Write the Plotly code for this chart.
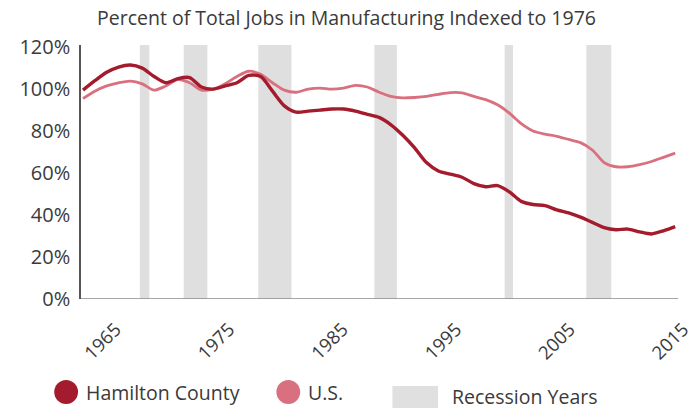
import plotly.graph_objects as go

# Annual share of jobs in manufacturing, indexed so that 1976 = 100%
years = list(range(1965, 2016))
hamilton = [
    99.5, 104.0, 108.0, 110.5, 111.5, 110.0, 106.0, 103.0, 105.0, 105.5,
    101.0, 100.0, 101.5, 103.0, 106.5, 106.0, 99.0, 92.0, 89.0, 89.5,
    90.0, 90.5, 90.5, 89.5, 88.0, 86.5, 83.0, 78.0, 72.0, 65.0,
    61.0, 59.5, 58.0, 55.0, 53.5, 54.0, 51.0, 46.5, 45.0, 44.5,
    42.5, 41.0, 39.0, 36.5, 34.0, 33.0, 33.3, 32.0, 31.0, 32.5,
    34.5,
]
us = [
    95.5, 99.0, 101.5, 103.0, 103.8, 102.5, 99.5, 101.5, 104.5, 103.0,
    99.5, 100.0, 102.5, 106.0, 108.5, 107.0, 103.0, 99.5, 98.5, 100.0,
    100.5, 100.0, 100.5, 101.8, 101.0, 98.5, 96.5, 95.8, 96.0, 96.5,
    97.5, 98.3, 98.2, 96.5, 95.0, 92.5, 88.5, 83.5, 80.0, 78.5,
    77.5, 76.0, 74.5, 71.0, 65.0, 63.0, 63.0, 64.0, 65.5, 67.5,
    69.5,
]

# Recession periods (start, end) in fractional years
recessions = [
    (1969.8, 1970.6),
    (1973.5, 1975.5),
    (1979.8, 1982.6),
    (1989.6, 1991.5),
    (2000.6, 2001.3),
    (2007.5, 2009.6),
]

tick_years = [1965, 1975, 1985, 1995, 2005, 2015]
y_ticks = [0, 20, 40, 60, 80, 100, 120]

series_names = ["Hamilton County", "U.S."]
legend_recession = "Recession Years"

HAMILTON_COLOR = "#a31b2c"
US_COLOR = "#d9707f"
RECESSION_COLOR = "#dcdcdc"
TEXT_COLOR = "#3a3a3a"
FONT = "Open Sans"

W, H = 693, 410
ML, MR, MT, MB = 81, 0, 45, 111
X_RANGE = [1964.83, 2016.08]      # data axis, spans the full plot width
AXIS_END = 2015.25                # where the drawn baseline stops
LABEL_RANGE = [1961.94, 2015.43]  # separate scale for the rotated year labels

fig = go.Figure()

shapes = []
for x0, x1 in recessions:
    shapes.append(dict(type="rect", xref="x", yref="paper", x0=x0, x1=x1,
                       y0=0, y1=1, fillcolor=RECESSION_COLOR, opacity=0.9,
                       line=dict(width=0), layer="below"))

# baseline of the x axis
shapes.append(dict(type="line", xref="x", yref="y", x0=X_RANGE[0], x1=AXIS_END,
                   y0=0, y1=0, line=dict(color="#8a8a8a", width=1.5)))

fig.add_trace(go.Scatter(
    x=years, y=us, mode="lines", name=series_names[1],
    line=dict(color=US_COLOR, width=2.8, shape="spline", smoothing=0.8),
    showlegend=False, hoverinfo="skip",
))
fig.add_trace(go.Scatter(
    x=years, y=hamilton, mode="lines", name=series_names[0],
    line=dict(color=HAMILTON_COLOR, width=3.4, shape="spline", smoothing=0.8),
    showlegend=False, hoverinfo="skip",
))
# carrier for the year-label axis
fig.add_trace(go.Scatter(
    x=tick_years, y=[None] * len(tick_years), xaxis="x2", mode="lines",
    showlegend=False, hoverinfo="skip",
))

plot_w = W - ML - MR
plot_h = H - MT - MB


def px_x(px):
    return (px - ML) / plot_w


def px_y(py):
    return (H - MB - py) / plot_h


# Hand-built legend row under the axis
annotations = []
r = 12
for cx, color, label in [(66, HAMILTON_COLOR, series_names[0]),
                         (290, US_COLOR, series_names[1])]:
    shapes.append(dict(type="circle", xref="paper", yref="paper",
                       x0=px_x(cx - r), x1=px_x(cx + r),
                       y0=px_y(392 + r), y1=px_y(392 - r),
                       fillcolor=color, line=dict(width=0)))
    annotations.append(dict(text=label, xref="paper", yref="paper",
                            x=px_x(cx + 19), y=px_y(392), xanchor="left",
                            yanchor="middle", showarrow=False, borderpad=0,
                            font=dict(family=FONT, size=19.5, color=TEXT_COLOR)))
shapes.append(dict(type="rect", xref="paper", yref="paper",
                   x0=px_x(395), x1=px_x(441), y0=px_y(408), y1=px_y(386),
                   fillcolor="#e0e0e0", line=dict(width=0)))
annotations.append(dict(text=legend_recession, xref="paper", yref="paper",
                        x=px_x(454), y=px_y(396), xanchor="left",
                        yanchor="middle", showarrow=False, borderpad=0,
                        font=dict(family=FONT, size=19.5, color=TEXT_COLOR)))

fig.update_layout(
    width=W, height=H,
    margin=dict(l=ML, r=MR, t=MT, b=MB),
    paper_bgcolor="white", plot_bgcolor="white",
    font=dict(family=FONT, color=TEXT_COLOR),
    title=dict(text="Percent of Total Jobs in Manufacturing Indexed to 1976",
               x=0.5, xref="container", xanchor="center",
               y=1 - 18 / H, yref="container", yanchor="middle",
               font=dict(family=FONT, size=19.5, color=TEXT_COLOR)),
    xaxis=dict(range=X_RANGE, showgrid=False, zeroline=False,
               showline=False, showticklabels=False, ticks=""),
    xaxis2=dict(range=LABEL_RANGE, overlaying="x", side="bottom", anchor="y",
                showgrid=False, zeroline=False, showline=False,
                tickvals=tick_years, ticktext=[str(y) for y in tick_years],
                tickangle=-45, ticks="", ticklabelstandoff=15,
                ticklabeloverflow="allow",
                tickfont=dict(family=FONT, size=18.5, color=TEXT_COLOR)),
    yaxis=dict(range=[0, 121], showgrid=False, zeroline=False,
               showline=True, linecolor="#555555", linewidth=1.5,
               tickvals=y_ticks, ticktext=[f"{v}%" for v in y_ticks],
               ticks="", ticklabelstandoff=5,
               tickfont=dict(family=FONT, size=20, color=TEXT_COLOR)),
    shapes=shapes,
    annotations=annotations,
    showlegend=False,
)

fig.write_html("out.html")
